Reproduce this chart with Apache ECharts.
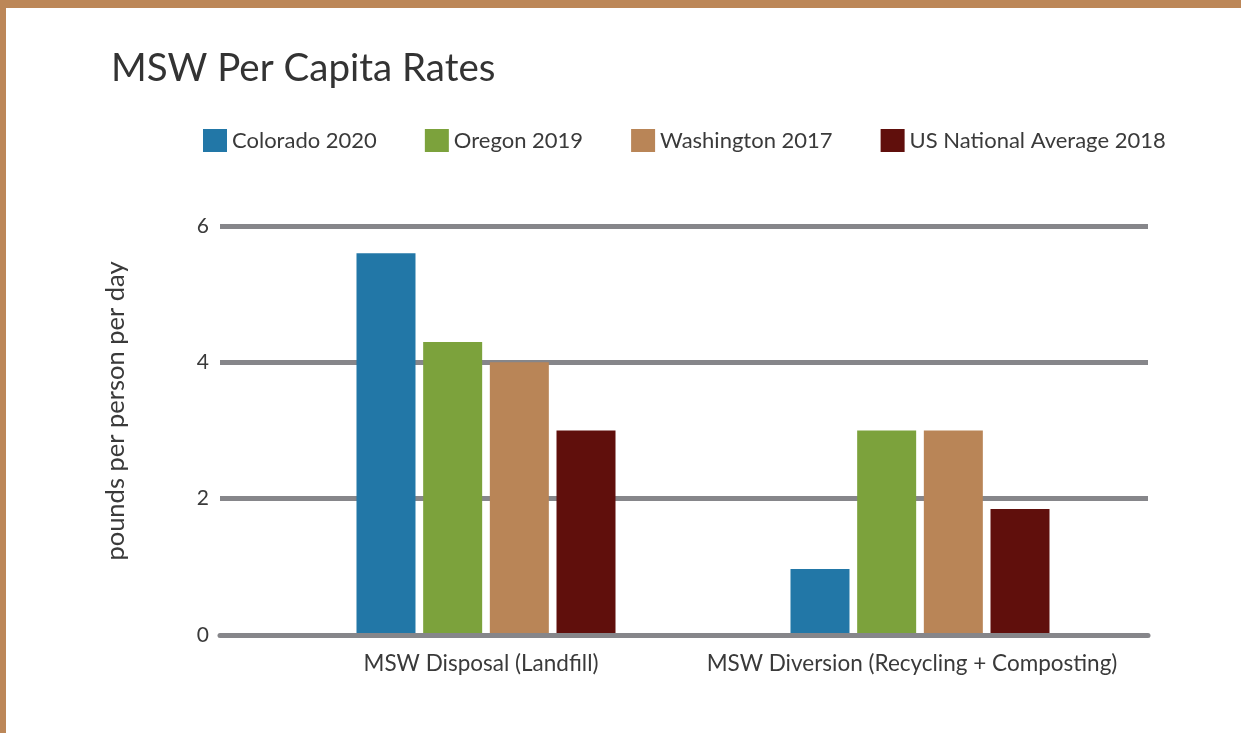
<!DOCTYPE html>
<html>
<head>
<meta charset="utf-8">
<script src="https://cdn.jsdelivr.net/npm/echarts@6/dist/echarts.min.js"></script>
<style>
  html, body { margin: 0; padding: 0; background: #fff; }
  #chart { width: 1241px; height: 733px; }
</style>
</head>
<body>
<div id="chart"></div>
<script>
  // data
  var categories = ['MSW Disposal (Landfill)', 'MSW Diversion (Recycling + Composting)']
  var seriesNames = ['Colorado 2020', 'Oregon 2019', 'Washington 2017', 'US National Average 2018']
  var colorado = [5.6, 0.97]
  var oregon = [4.3, 3.0]
  var washington = [4.0, 3.0]
  var usAverage = [3.0, 1.85]
  var yTicks = [0, 2, 4, 6]

  var colors = ['#2277a7', '#7ca23c', '#b98557', '#600f0c']
  var frameColor = '#bc8758'
  var lineColor = '#86868a'
  var textColor = '#3a3a3a'
  var fontName = 'Lato'
  // labels sit a little left of the bar groups in the original
  var labelShift = [10, 16]

  var chart = echarts.init(document.getElementById('chart'))

  function bar(name, values, idx) {
    return {
      name: name,
      type: 'bar',
      xAxisIndex: 1,
      yAxisIndex: 1,
      barWidth: 59,
      barGap: '13%',
      itemStyle: { color: colors[idx] },
      data: values
    }
  }

  chart.setOption({
    animation: false,
    textStyle: { fontFamily: fontName },
    title: {
      text: 'MSW Per Capita Rates',
      left: 106,
      top: 44,
      textStyle: { fontFamily: fontName, fontSize: 38.5, fontWeight: 'normal', color: '#333' }
    },
    legend: {
      left: 198,
      top: 124,
      itemWidth: 24,
      itemHeight: 23,
      itemGap: 48,
      icon: 'rect',
      textStyle: { fontFamily: fontName, fontSize: 22, color: textColor },
      data: seriesNames
    },
    graphic: [
      { type: 'rect', left: 0, top: 0, shape: { width: 1241, height: 8 }, style: { fill: frameColor } },
      { type: 'rect', left: 0, top: 0, shape: { width: 6, height: 733 }, style: { fill: frameColor } },
      {
        type: 'text',
        x: 116,
        y: 411,
        rotation: Math.PI / 2,
        style: {
          text: 'pounds per person per day',
          fontFamily: fontName,
          fontSize: 25.5,
          fill: textColor,
          align: 'center',
          verticalAlign: 'middle'
        }
      }
    ],
    grid: [
      { left: 220, right: 93, top: 226, bottom: 98 },
      { left: 269, right: 104, top: 226, bottom: 98 }
    ],
    xAxis: [{
      gridIndex: 0,
      type: 'value',
      min: 0,
      max: 1,
      z: 5,
      axisLine: { show: true, lineStyle: { color: lineColor, width: 5 } },
      axisTick: { show: false },
      axisLabel: { show: false },
      splitLine: { show: false }
    }, {
      gridIndex: 1,
      type: 'category',
      data: categories.map(function(c, i) {
        return { value: c, textStyle: { padding: [0, labelShift[i], 0, 0] } }
      }),
      axisLine: { show: false },
      axisTick: { show: false },
      axisLabel: { interval: 0, color: textColor, fontSize: 22.5, fontFamily: fontName, margin: 17 }
    }],
    yAxis: [{
      gridIndex: 0,
      type: 'value',
      min: yTicks[0],
      max: yTicks[yTicks.length - 1],
      interval: 2,
      axisLine: { show: false },
      axisTick: { show: false },
      axisLabel: { color: textColor, fontSize: 21, fontFamily: fontName, margin: 11 },
      splitLine: { lineStyle: { color: lineColor, width: 5 } }
    }, {
      gridIndex: 1,
      type: 'value',
      min: yTicks[0],
      max: yTicks[yTicks.length - 1],
      show: false
    }],
    series: [
      bar(seriesNames[0], colorado, 0),
      bar(seriesNames[1], oregon, 1),
      bar(seriesNames[2], washington, 2),
      bar(seriesNames[3], usAverage, 3)
    ]
  })
</script>
</body>
</html>
